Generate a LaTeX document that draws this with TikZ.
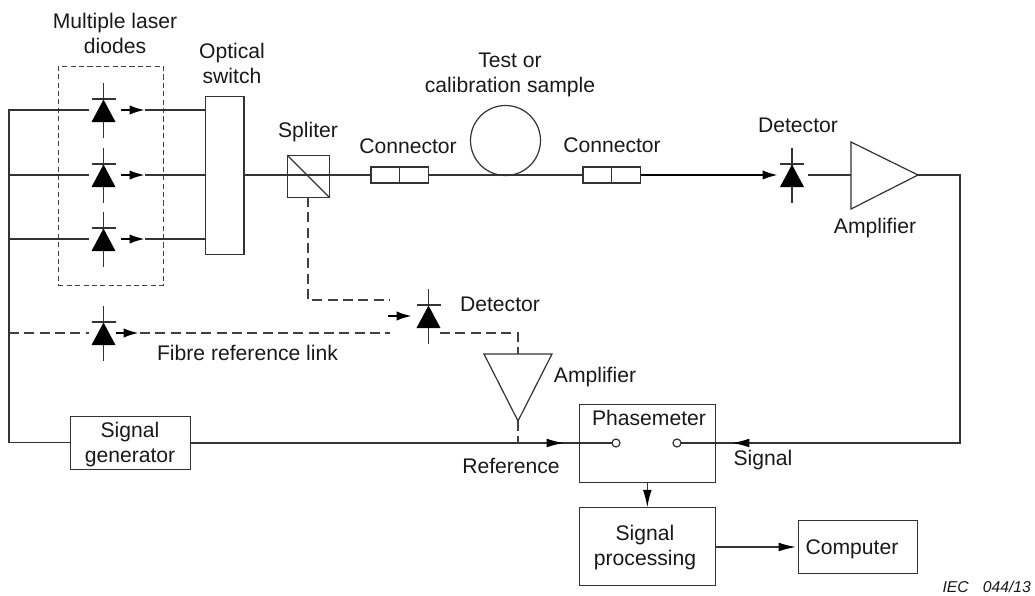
\documentclass[tikz,border=0pt]{standalone}
\usepackage{fontspec}
\setmainfont{Liberation Sans}
\usetikzlibrary{arrows.meta}
\tikzset{
 x=0.75pt,y=-0.75pt,
 ln/.style={draw=black!80,line width=0.9pt},
 dsh/.style={draw=black!75,line width=0.95pt,dash pattern=on 7.5pt off 4pt},
 grp/.style={draw=black!75,line width=0.7pt,dash pattern=on 3.8pt off 2.5pt},
 heavy/.style={draw=black,line width=1.7pt},
 tipa/.style={-{Latex[length=11.5pt,width=7pt,black]}},
 tipb/.style={-{Latex[length=13pt,width=6.5pt,black]}},
 lbl/.style={font=\fontsize{15.85pt}{18.5pt}\selectfont,align=center,inner sep=0pt,text=black!90,anchor=base},
 boxn/.style={ln,fill=white,inner sep=0pt,outer sep=0pt,anchor=north west},
 port/.style={ln,circle,fill=white,minimum size=6pt,inner sep=0pt,outer sep=0pt}
}
\newcommand{\diode}[3]{% x, y of horizontal line, name
 \coordinate (#3top) at (#1,#2-27);
 \coordinate (#3bot) at (#1,#2+28);
 \coordinate (#3bl) at (#1-12,#2-11);
 \coordinate (#3br) at (#1+12,#2-11);
 \coordinate (#3w) at (#1-15,#2);
 \coordinate (#3e) at (#1+41.5,#2);
 \draw[ln] (#3top) -- (#3bot);
 \draw[ln] (#3bl) -- (#3br);
 \fill[black] (#1,#2-10.5) -- (#1+12,#2+12) -- (#1-12,#2+12) -- cycle;
}
\begin{document}
\begin{tikzpicture}
\useasboundingbox (0,0) rectangle (1035,596);
% dashed group
\node[grp,anchor=north west,minimum width=105*0.75pt,minimum height=219*0.75pt,inner sep=0pt,outer sep=0pt] (group) at (58.3,66.3) {};
% diodes
\diode{103.5}{110}{da}
\diode{103.5}{175}{db}
\diode{103.5}{239}{dc}
\diode{103.5}{333}{dr}
\diode{428.5}{316}{dd}
\diode{792}{175}{de}
% boxes
\node[boxn,minimum width=38.5*0.75pt,minimum height=158*0.75pt] (sw) at (205.5,96.3) {};
\node[boxn,minimum width=42*0.75pt,minimum height=42*0.75pt] (split) at (287.3,155.3) {};
\node[boxn,minimum width=57.5*0.75pt,minimum height=16*0.75pt] (c1) at (371,167) {};
\node[boxn,minimum width=57.5*0.75pt,minimum height=16*0.75pt] (c2) at (583,167) {};
\node[ln,circle,minimum size=70*0.75pt,inner sep=0pt,outer sep=0pt] (loop) at (505.5,140.5) {};
\node[boxn,minimum width=120*0.75pt,minimum height=53*0.75pt] (gen) at (70.3,416.5) {};
\node[boxn,minimum width=136*0.75pt,minimum height=78.5*0.75pt] (ph) at (579.3,404.3) {};
\node[boxn,minimum width=136*0.75pt,minimum height=78.5*0.75pt] (sp) at (579.3,507.3) {};
\node[boxn,minimum width=119*0.75pt,minimum height=53*0.75pt] (comp) at (798.3,520.3) {};
\node[port] (pa) at (616,443) {};
\node[port] (pb) at (677,443) {};
% splitter + connector details
\draw[ln] (split.north west) -- (split.south east);
\draw[ln] (c1.north) -- (c1.south);
\draw[ln] (c2.north) -- (c2.south);
% amplifiers
\coordinate (a1a) at (851,142); \coordinate (a1b) at (851,209); \coordinate (a1t) at (918,175);
\draw[ln] (a1a) -- (a1t) -- (a1b) -- cycle;
\coordinate (a2a) at (484,354); \coordinate (a2b) at (552,354); \coordinate (a2t) at (518,421);
\draw[ln] (a2a) -- (a2t) -- (a2b) -- cycle;
% named routing points
\coordinate (busT) at (9,110);
\coordinate (busM) at (9,175);
\coordinate (busN) at (9,239);
\coordinate (busR) at (9,333);
\coordinate (busB) at (9,442.5);
\coordinate (swa) at (205.5,110);
\coordinate (swb) at (205.5,175);
\coordinate (swc) at (205.5,239);
\coordinate (swo) at (244,175);
\coordinate (a1in) at (851,175);
\coordinate (deo) at (808,175);
\coordinate (rgt) at (960,175);
\coordinate (rgb) at (960,443);
\coordinate (gene) at (190,443);
\coordinate (drx) at (140,333);
\coordinate (gapR) at (390,333);
\coordinate (gapS) at (390,300);
\coordinate (spb) at (308,197);
\coordinate (spc) at (308,300);
\coordinate (ddo) at (440,333);
\coordinate (a2c) at (518,333);
\coordinate (a2top) at (518,354);
\coordinate (a2low) at (518,443);
\coordinate (spo) at (715,547);
\coordinate (cpi) at (796,547);
% solid wiring
\draw[ln] (daw) -- (busT) -- (busB) -- (busB -| gen.west);
\draw[ln] (busM) -- (dbw);
\draw[ln] (busN) -- (dcw);
\draw[ln] (dae) -- (swa);
\draw[ln] (dbe) -- (swb);
\draw[ln] (dce) -- (swc);
\draw[ln] (swo) -- (c1.west);
\draw[ln] (c1.east) -- (c2.west);
\draw[ln] (deo) -- (a1in);
\draw[ln] (a1t) -- (rgt) -- (rgb) -- (pb);
\draw[ln] (gene) -- (pa);
% dashed wiring
\draw[dsh] (spb) -- (spc) -- (gapS);
\draw[dsh] (busR) -- (drw);
\draw[dsh] (drx) -- (gapR);
\draw[dsh] (ddo) -- (a2c) -- (a2top);
\draw[dsh] (a2t) -- (a2low);
% arrows
\foreach \yy in {110,175,239}{\draw[heavy,tipa] (121,\yy) -- (145,\yy);}
\draw[heavy,tipa] (116,333) -- (139,333);
\draw[heavy,tipa] (388,316) -- (412,316);
\draw[heavy,tipa] (c2.east) -- (778,175);
\draw[ln,tipb] (530,443) -- (564,443);
\draw[ln,tipb] (770,443) -- (732,443);
\draw[ln,tipb] (ph.south) -- (sp.north);
\draw[ln,tipb] (spo) -- (cpi);
% labels (anchor = last baseline)
\node[lbl] (t1) at (115,53) {Multiple laser\\diodes};
\node[lbl] (t2) at (232,83) {Optical\\switch};
\node[lbl] (t3) at (308,137) {Spliter};
\node[lbl] (t4) at (408,153) {Connector};
\node[lbl] (t5) at (510,92) {Test or\\calibration sample};
\node[lbl] (t6) at (612,152) {Connector};
\node[lbl] (t7) at (798,132) {Detector};
\node[lbl] (t8) at (875,233) {Amplifier};
\node[lbl] (t9) at (500,311) {Detector};
\node[lbl] (t10) at (247.5,360) {Fibre reference link};
\node[lbl] (t11) at (595,382) {Amplifier};
\node[lbl] (t12) at (649,425) {Phasemeter};
\node[lbl] (t13) at (511,473) {Reference};
\node[lbl] (t14) at (763,465) {Signal};
\node[lbl] (t15) at (130,462) {Signal\\generator};
\node[lbl] (t16) at (645,565) {Signal\\processing};
\node[lbl] (t17) at (852,554) {Computer};
\node[anchor=base east,inner sep=0pt,outer sep=0pt,text=black!90,font=\fontsize{11.8pt}{14pt}\selectfont\itshape] (t18) at (1031,592.5) {IEC\hspace{0.9em}044/13};
\end{tikzpicture}
\end{document}
